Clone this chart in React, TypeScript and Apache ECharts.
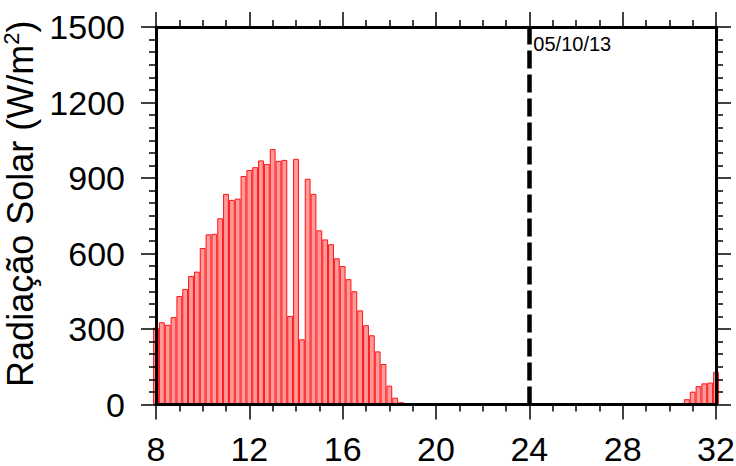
import React, { useEffect, useRef } from "react";
import * as echarts from "echarts";

// Hours (continuous time axis, 8 = 08:00 of day 1, 32 = 08:00 of next day)
const day1Hours = [
  8, 8.25, 8.5, 8.75, 9, 9.25, 9.5, 9.75, 10, 10.25, 10.5, 10.75, 11, 11.25, 11.5, 11.75,
  12, 12.25, 12.5, 12.75, 13, 13.25, 13.5, 13.75, 14, 14.25, 14.5, 14.75, 15, 15.25, 15.5, 15.75,
  16, 16.25, 16.5, 16.75, 17, 17.25, 17.5, 17.75, 18, 18.25, 18.5,
];
const day1Radiation = [
  305, 327, 317, 347, 431, 459, 511, 528, 622, 676, 678, 740, 837, 813, 818, 908,
  932, 943, 970, 956, 1015, 968, 972, 352, 976, 259, 897, 837, 692, 656, 637, 581,
  550, 498, 450, 374, 315, 275, 211, 161, 75, 27, 9,
];
const day2Hours = [30.75, 31, 31.25, 31.5, 31.75, 32];
const day2Radiation = [21, 51, 73, 84, 87, 130];

const dateMarkHour = 24;
const dateMarkLabel = "05/10/13";
const yAxisTitle = "Radiação Solar (W/m";

const FONT = "Liberation Sans, Arial, Helvetica, sans-serif";

export default function App() {
  const ref = useRef<HTMLDivElement>(null);
  useEffect(() => {
    if (!ref.current) return;
    const chart = echarts.init(ref.current, undefined, { renderer: "svg" });
    const data: [number, number][] = [];
    day1Hours.forEach((h, i) => data.push([h, day1Radiation[i]]));
    day2Hours.forEach((h, i) => data.push([h, day2Radiation[i]]));

    const lineStyle = { color: "#000", width: 3 };
    const tickStyle = { color: "#000", width: 1.5 };
    const plain = (v: number) => String(v);
    const baseX = {
      type: "value" as const,
      min: 8,
      max: 32,
      interval: 4,
      z: 10,
      axisLine: { show: true, onZero: false, lineStyle },
      axisTick: { show: true, inside: false, length: 15, lineStyle: tickStyle },
      minorTick: { show: true, splitNumber: 4, length: 7, lineStyle: tickStyle },
      splitLine: { show: false },
    };
    const baseY = {
      type: "value" as const,
      min: 0,
      max: 1500,
      interval: 300,
      z: 10,
      axisLine: { show: true, onZero: false, lineStyle },
      axisTick: { show: true, inside: false, length: 15, lineStyle: tickStyle },
      minorTick: { show: true, splitNumber: 6, length: 7, lineStyle: tickStyle },
      splitLine: { show: false },
    };

    chart.setOption({
      animation: false,
      grid: {
        left: 156,
        right: 20,
        top: 27,
        bottom: 61.5,
        containLabel: false,
        outerBoundsMode: "none",
      },
      xAxis: [
        {
          ...baseX,
          position: "bottom",
          axisLabel: { show: true, color: "#000", fontFamily: FONT, fontSize: 34, margin: 27, formatter: plain },
        },
        { ...baseX, position: "top", axisLabel: { show: false } },
      ],
      yAxis: [
        {
          ...baseY,
          position: "left",
          name: `{a|${yAxisTitle}}{s|2}{a|)}`,
          nameLocation: "middle",
          nameGap: 107,
          nameRotate: 90,
          nameTextStyle: {
            padding: [0, 0, 0, 24],
            rich: {
              a: { fontFamily: FONT, fontSize: 36, color: "#000", lineHeight: 40 },
              s: { fontFamily: FONT, fontSize: 22, color: "#000", verticalAlign: "top", lineHeight: 40, padding: [0, 0, 14, 0] },
            },
          },
          axisLabel: { show: true, color: "#000", fontFamily: FONT, fontSize: 34, margin: 31, formatter: plain },
        },
        { ...baseY, position: "right", axisLabel: { show: false } },
      ],
      series: [
        {
          type: "bar",
          xAxisIndex: 0,
          yAxisIndex: 0,
          data,
          barWidth: 5.83,
          clip: true,
          itemStyle: { color: "#ff9a9a", borderColor: "#ff1212", borderWidth: 1 },
          markLine: {
            silent: true,
            symbol: "none",
            label: { show: false },
            lineStyle: { color: "#000", width: 4.5, type: [18, 6] },
            data: [{ xAxis: dateMarkHour }],
          },
          markPoint: {
            silent: true,
            symbol: "circle",
            symbolSize: 0,
            data: [{ coord: [dateMarkHour, 1500] }],
            label: {
              show: true,
              formatter: dateMarkLabel,
              position: [4, 7],
              align: "left",
              verticalAlign: "top",
              color: "#000",
              fontFamily: FONT,
              fontSize: 20,
            },
          },
        },
      ],
    });
    return () => chart.dispose();
  }, []);
  return (
    <div
      ref={ref}
      style={{ position: "fixed", left: 0, top: 0, width: 736, height: 466, background: "#fff" }}
    />
  );
}
